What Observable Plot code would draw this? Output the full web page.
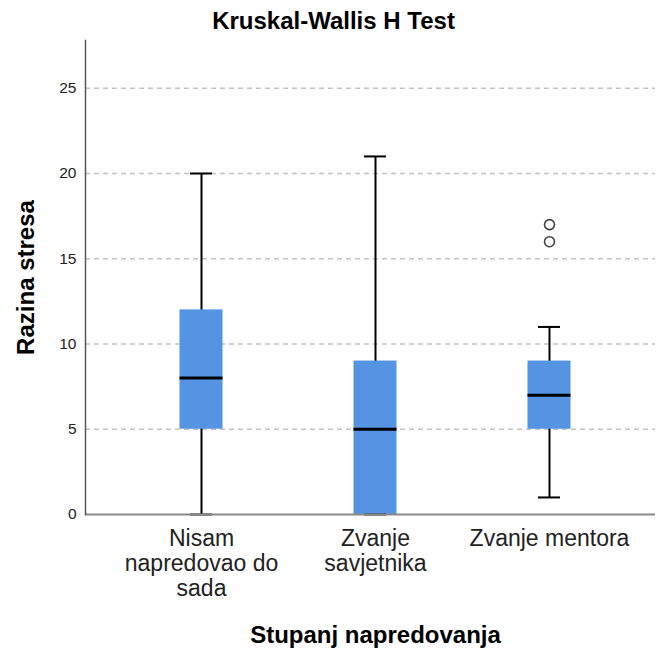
<!DOCTYPE html>
<html>
<head>
<meta charset="utf-8">
<script src="https://cdn.jsdelivr.net/npm/d3@7"></script>
<script src="https://cdn.jsdelivr.net/npm/@observablehq/plot@0.6"></script>
<style>
  html, body { margin: 0; padding: 0; background: #fff; }
  #chart svg { display: block; }
</style>
</head>
<body>
<div id="chart"></div>
<script>
const categories = ["Nisam napredovao do sada", "Zvanje savjetnika", "Zvanje mentora"];
const tickLabels = ["Nisam\nnapredovao do\nsada", "Zvanje\nsavjetnika", "Zvanje mentora"];
const mins    = [0, 0, 1];
const q1s     = [5, 0, 5];
const medians = [8, 5, 7];
const q3s     = [12, 9, 9];
const maxs    = [20, 21, 11];
const outlierCats = ["Zvanje mentora", "Zvanje mentora"];
const outlierVals = [16, 17];
const yTicks = [0, 5, 10, 15, 20, 25];
const gridVals = [5, 10, 15, 20, 25];

const boxes = categories.map((c, i) => ({cat: c, min: mins[i], q1: q1s[i], med: medians[i], q3: q3s[i], max: maxs[i]}));
const outliers = outlierCats.map((c, i) => ({cat: c, v: outlierVals[i]}));
const labelOf = new Map(categories.map((c, i) => [c, tickLabels[i]]));

const font = "'Liberation Sans', Arial, sans-serif";

const chart = Plot.plot({
  width: 656,
  height: 650,
  marginTop: 40,
  marginBottom: 136,
  marginLeft: 85,
  marginRight: 1,
  style: {fontFamily: font, background: "#fff"},
  x: {type: "band", domain: categories, padding: 0, insetLeft: 29, insetRight: 19},
  y: {domain: [0, 27.8]},
  marks: [
    Plot.ruleY(gridVals, {stroke: "#c4c4c4", strokeWidth: 1.5, strokeDasharray: "5,4"}),
    Plot.ruleX(boxes, {x: "cat", y1: "min", y2: "max", stroke: "#000", strokeWidth: 2}),
    Plot.barY(boxes, {x: "cat", y1: "q1", y2: "q3", fill: "#5594e3", insetLeft: 65.5, insetRight: 65.5}),
    Plot.tickY(boxes, {x: "cat", y: "med", stroke: "#000", strokeWidth: 3, insetLeft: 65.5, insetRight: 65.5}),
    Plot.tickY(boxes, {x: "cat", y: "min", stroke: "#000", strokeWidth: 2, insetLeft: 76, insetRight: 76}),
    Plot.tickY(boxes, {x: "cat", y: "max", stroke: "#000", strokeWidth: 2, insetLeft: 76, insetRight: 76}),
    Plot.dot(outliers, {x: "cat", y: "v", r: 5, stroke: "#444", strokeWidth: 1.6, fill: "none"}),
    Plot.ruleY([0], {stroke: "#8a8a8a", strokeWidth: 2}),
    Plot.frame({anchor: "left", stroke: "#555", strokeWidth: 1.5}),
    Plot.axisY({ticks: yTicks, tickSize: 0, tickPadding: 9, fontSize: 15.5, label: null, fill: "#222"}),
    Plot.axisX({tickSize: 0, tickPadding: 14, fontSize: 23, lineHeight: 1.087, label: null,
                tickFormat: d => labelOf.get(d), fill: "#222"}),
    Plot.text(["Kruskal-Wallis H Test"], {frameAnchor: "top", lineAnchor: "middle", textAnchor: "middle", dx: -37, dy: -19, fontSize: 24, fontWeight: "bold", fill: "#000"}),
    Plot.text(["Razina stresa"], {frameAnchor: "left", lineAnchor: "middle", textAnchor: "middle", dx: -59, rotate: -90, fontSize: 24, fontWeight: "bold", fill: "#000"}),
    Plot.text(["Stupanj napredovanja"], {frameAnchor: "bottom", lineAnchor: "middle", textAnchor: "middle", dx: 5, dy: 121, fontSize: 24, fontWeight: "bold", fill: "#000"})
  ]
});
document.getElementById("chart").appendChild(chart);
</script>
</body>
</html>
